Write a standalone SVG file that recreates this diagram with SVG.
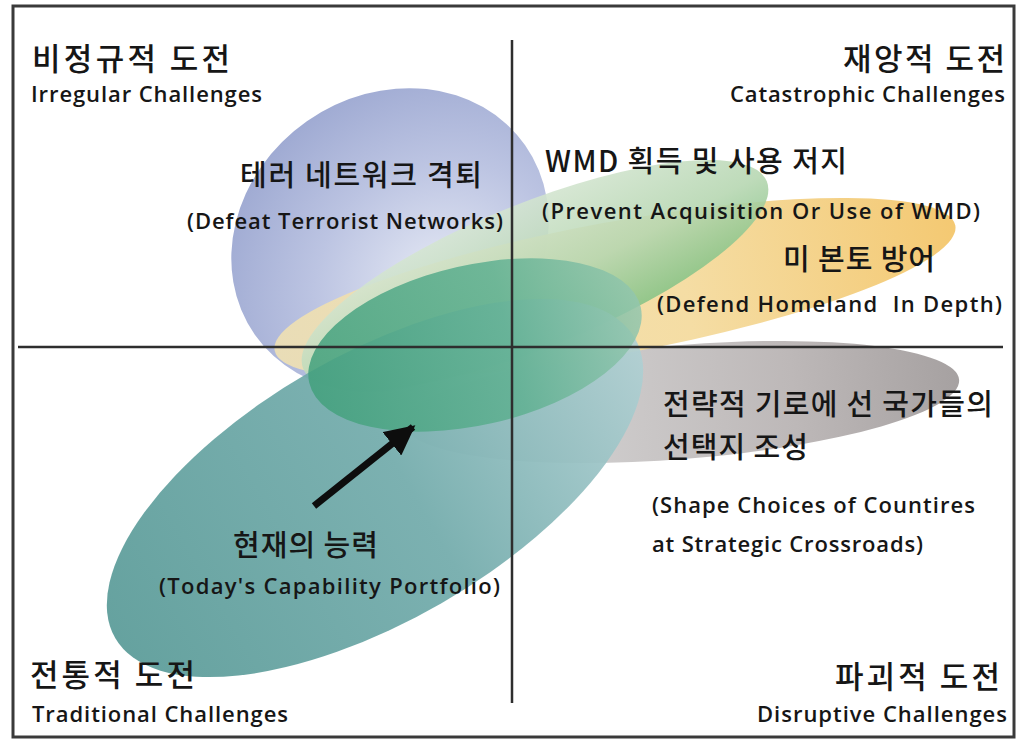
<svg xmlns="http://www.w3.org/2000/svg" width="1024" height="740" viewBox="0 0 1024 740">
  <style>
    .ko { font-family: "Noto Sans CJK KR", sans-serif; font-size: 29px; font-weight: 500; fill: #161616; }
    .kq { font-family: "Noto Sans CJK KR", sans-serif; font-size: 31px; font-weight: 500; fill: #161616; }
    .en { font-family: "Open Sans", "Liberation Sans", sans-serif; font-weight: 600; font-size: 22px; fill: #161616; }
    .line { stroke: #2e2e2e; stroke-width: 2.5; fill: none; }
  </style>
  <defs>
    <radialGradient id="gBlue" cx="0.55" cy="0.7" r="0.7">
      <stop offset="0" stop-color="#e4e8f4"/>
      <stop offset="0.55" stop-color="#bcc4e2"/>
      <stop offset="1" stop-color="#a0abd3"/>
    </radialGradient>
    <linearGradient id="gYellow" x1="0" y1="0" x2="1" y2="0">
      <stop offset="0" stop-color="#eee0b4"/>
      <stop offset="0.6" stop-color="#f4da9c"/>
      <stop offset="1" stop-color="#f3c466"/>
    </linearGradient>
    <linearGradient id="gGreen" x1="0.3" y1="0" x2="0.6" y2="1">
      <stop offset="0" stop-color="#d6e6d3"/>
      <stop offset="0.6" stop-color="#b5d6b0"/>
      <stop offset="1" stop-color="#86c386"/>
    </linearGradient>
    <linearGradient id="gTeal" x1="0" y1="0" x2="1" y2="0">
      <stop offset="0" stop-color="#5a9b98"/>
      <stop offset="0.55" stop-color="#72abab"/>
      <stop offset="1" stop-color="#b0d0d3"/>
    </linearGradient>
    <linearGradient id="gDark" x1="0" y1="0" x2="1" y2="0">
      <stop offset="0" stop-color="#42a07c"/>
      <stop offset="0.6" stop-color="#5fb091"/>
      <stop offset="1" stop-color="#93c6ae"/>
    </linearGradient>
    <linearGradient id="gGray" x1="0" y1="0" x2="1" y2="0">
      <stop offset="0" stop-color="#e8eaec"/>
      <stop offset="0.3" stop-color="#d0cece"/>
      <stop offset="0.7" stop-color="#bdb8b8"/>
      <stop offset="1" stop-color="#a6a1a1"/>
    </linearGradient>
    <marker id="arrowHead" viewBox="0 0 30 30" markerWidth="30" markerHeight="30" refX="27" refY="15" orient="auto" markerUnits="userSpaceOnUse">
      <path d="M0,0 L30,15 L0,30 z" fill="#0d0d0d"/>
    </marker>
  </defs>

  <rect x="0" y="0" width="1024" height="740" fill="#ffffff"/>

  <g id="node-shape-choices">
    <ellipse cx="0" cy="0" rx="278" ry="57" transform="translate(682,402) rotate(-4.6)" fill="url(#gGray)"/>
  </g>
  <g id="node-terrorist">
    <ellipse cx="0" cy="0" rx="165" ry="145" transform="translate(390,240) rotate(-35)" fill="url(#gBlue)"/>
  </g>
  <g id="node-homeland">
    <ellipse cx="0" cy="0" rx="346" ry="66" transform="translate(615,288) rotate(-10.4)" fill="url(#gYellow)" opacity="0.92"/>
  </g>
  <g id="node-wmd">
    <ellipse cx="0" cy="0" rx="250" ry="72" transform="translate(535,275) rotate(-22)" fill="url(#gGreen)" opacity="0.88"/>
  </g>
  <g id="node-today">
    <ellipse cx="0" cy="0" rx="300" ry="133" transform="translate(375,488) rotate(-30)" fill="url(#gTeal)" opacity="0.93"/>
  </g>
  <g id="node-core">
    <ellipse cx="0" cy="0" rx="170" ry="80" transform="translate(475,345) rotate(-12.8)" fill="url(#gDark)" opacity="0.85"/>
  </g>

  <g id="frame">
    <rect x="13" y="6" width="1001" height="731" fill="none" stroke="#3a3a3a" stroke-width="3"/>
    <line class="line" x1="512" y1="40" x2="512" y2="703"/>
    <line class="line" x1="18" y1="347" x2="1003" y2="347"/>
  </g>

  <g id="connectors">
    <line x1="314" y1="506" x2="413" y2="427" stroke="#0d0d0d" stroke-width="7" marker-end="url(#arrowHead)"/>
  </g>

  <g id="label-irregular">
    <text class="kq" x="32" y="70" textLength="198" lengthAdjust="spacing">비정규적 도전</text>
    <text class="en" x="31" y="102" textLength="231" lengthAdjust="spacing">Irregular Challenges</text>
  </g>
  <g id="label-catastrophic">
    <text class="kq" x="843" y="70" textLength="162" lengthAdjust="spacing">재앙적 도전</text>
    <text class="en" x="730" y="102" textLength="275" lengthAdjust="spacing">Catastrophic Challenges</text>
  </g>
  <g id="label-traditional">
    <text class="kq" x="30" y="686" textLength="165" lengthAdjust="spacing">전통적 도전</text>
    <text class="en" x="32" y="722" textLength="256" lengthAdjust="spacing">Traditional Challenges</text>
  </g>
  <g id="label-disruptive">
    <text class="kq" x="835" y="688" textLength="165" lengthAdjust="spacing">파괴적 도전</text>
    <text class="en" x="757" y="722" textLength="250" lengthAdjust="spacing">Disruptive Challenges</text>
  </g>

  <g id="text-terrorist">
    <text class="ko" x="240" y="186" textLength="242" lengthAdjust="spacing">테러 네트워크 격퇴</text>
    <text class="en" x="187" y="229" textLength="316" lengthAdjust="spacing">(Defeat Terrorist Networks)</text>
  </g>
  <g id="text-wmd">
    <text class="ko" x="545" y="172" textLength="302" lengthAdjust="spacing">WMD 획득 및 사용 저지</text>
    <text class="en" x="542" y="219" textLength="438" lengthAdjust="spacing">(Prevent Acquisition Or Use of WMD)</text>
  </g>
  <g id="text-homeland">
    <text class="ko" x="783" y="270" textLength="152" lengthAdjust="spacing">미 본토 방어</text>
    <text class="en" x="657" y="312" textLength="345" lengthAdjust="spacing">(Defend Homeland&#160; In Depth)</text>
  </g>
  <g id="text-shape">
    <text class="ko" x="663" y="415" textLength="330" lengthAdjust="spacing">전략적 기로에 선 국가들의</text>
    <text class="ko" x="663" y="458" textLength="145" lengthAdjust="spacing">선택지 조성</text>
    <text class="en" x="652" y="513" textLength="323" lengthAdjust="spacing">(Shape Choices of Countires</text>
    <text class="en" x="652" y="552" textLength="271" lengthAdjust="spacing">at Strategic Crossroads)</text>
  </g>
  <g id="text-today">
    <text class="ko" x="233" y="556" textLength="145" lengthAdjust="spacing">현재의 능력</text>
    <text class="en" x="159" y="594" textLength="341" lengthAdjust="spacing">(Today's Capability Portfolio)</text>
  </g>
</svg>
